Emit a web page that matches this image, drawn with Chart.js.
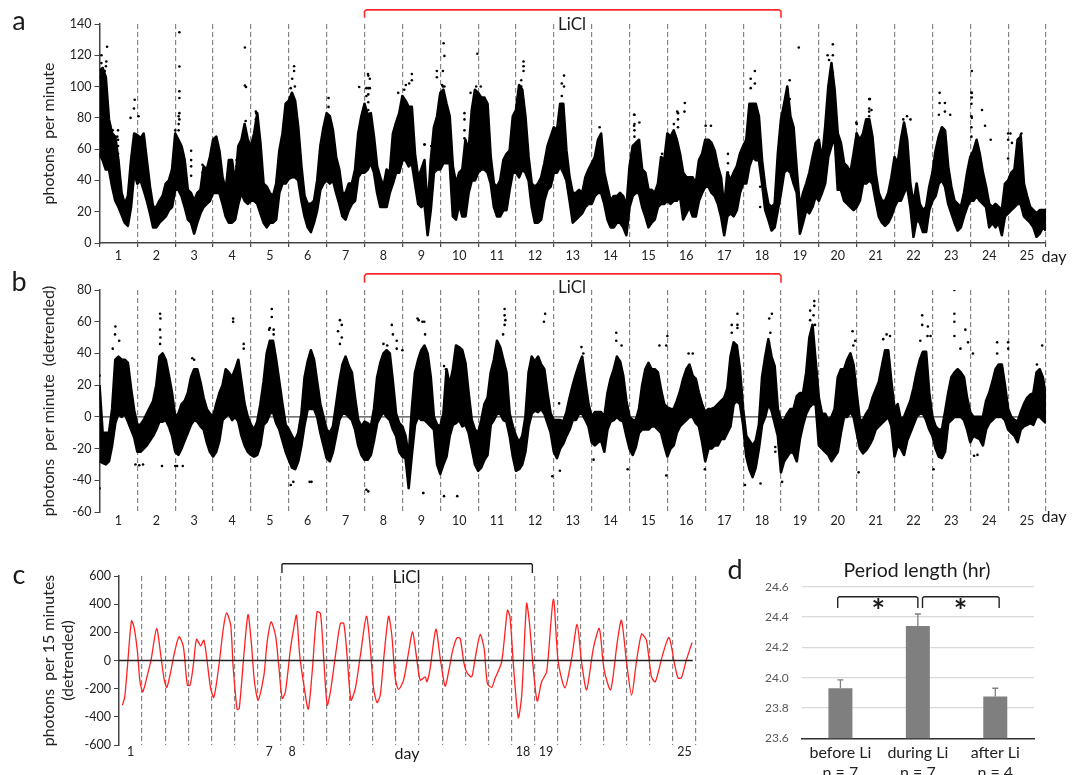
<!DOCTYPE html>
<html><head><meta charset="utf-8">
<style>
html,body{margin:0;padding:0;background:#fff;width:1079px;height:775px;overflow:hidden}
canvas{position:absolute;display:block}
</style>
<script src="https://cdn.jsdelivr.net/npm/chart.js@4/dist/chart.umd.min.js"></script>
</head><body>
<canvas id="ca" style="left:0px;top:0px" width="1079" height="265"></canvas>
<canvas id="cb" style="left:0px;top:265px" width="1079" height="270"></canvas>
<canvas id="cc" style="left:0px;top:550px" width="720" height="225"></canvas>
<canvas id="cd" style="left:720px;top:550px" width="359" height="225"></canvas>
<script>
// ---------- data ----------
const dayLabels = ['1','2','3','4','5','6','7','8','9','10','11','12','13','14','15','16','17','18','19','20','21','22','23','24','25'];
const dayLabelsC = ['1','','','','','','7','8','','','','','','','','','','18','19','','','','','','25'];

// panel a: dense band of the point cloud, lower and upper edge, twelve readings per day
const aLow = [57,53,47,47,36,27,23,18,13,11,23,45, 38,40,34,27,19,10,10,13,15,17,21,23, 34,34,30,23,15,13,6,13,19,23,25,27,
  32,32,32,25,17,13,13,15,25,32,27,25, 27,27,25,19,13,10,13,13,15,32,38,38, 41,42,42,40,27,17,10,7,13,21,34,38,
  40,38,40,32,25,17,15,21,25,27,42,45, 45,47,51,45,32,23,23,23,32,38,45,45, 53,53,49,51,38,25,23,25,5,21,45,47,
  47,51,51,51,17,15,25,17,17,32,40,40, 45,47,47,45,38,23,17,17,21,21,34,45, 45,42,47,45,40,23,13,13,15,27,34,36,
  45,45,49,45,40,27,13,15,17,19,23,25, 25,30,32,32,25,15,10,10,13,13,10,5, 23,30,32,32,23,17,10,13,15,23,25,25,
  27,25,27,27,30,15,19,23,17,17,27,32, 36,36,32,30,25,17,5,17,19,17,21,32, 38,38,49,55,53,53,38,21,15,8,10,21,
  32,45,47,45,38,32,6,13,21,19,23,30, 27,32,38,55,62,68,34,34,27,25,23,21, 23,27,38,38,40,38,27,17,13,11,13,17,
  23,27,27,32,36,23,4,15,13,7,7,21, 27,30,38,40,36,25,19,13,8,10,17,23, 27,27,30,27,25,23,10,13,10,13,5,17,
  19,21,23,25,25,17,15,13,10,4,6,10, 8];
const aHigh = [110,112,106,79,70,68,53,32,25,30,53,70, 69,67,70,53,36,23,23,27,30,38,40,47, 70,66,62,53,34,32,27,32,34,49,47,55,
  66,68,59,42,34,53,53,38,62,66,76,66, 62,70,83,64,38,36,32,30,38,59,70,89, 91,96,91,74,49,30,25,25,27,40,62,74,
  83,81,72,55,47,32,32,38,38,47,70,81, 89,82,83,68,49,42,36,47,45,70,77,83, 94,91,87,87,57,42,47,53,21,53,74,81,
  96,98,89,81,49,38,45,47,66,59,85,98, 96,93,93,89,55,38,36,40,53,57,59,81, 85,101,98,81,55,38,36,38,42,51,62,68,
  74,72,89,89,59,42,32,32,34,32,42,47, 51,55,66,70,45,36,27,30,30,32,30,23, 49,62,64,66,47,45,34,34,32,38,55,53,
  70,68,72,66,57,45,42,42,42,38,53,57, 66,66,64,59,49,42,23,45,40,45,49,57, 62,66,89,89,89,81,53,36,25,23,25,57,
  79,89,100,81,74,47,23,32,38,45,55,64, 66,53,74,100,115,98,70,64,51,49,45,57, 70,66,70,79,79,68,45,32,27,27,32,42,
  55,51,66,77,66,38,25,38,25,21,23,36, 45,59,68,74,72,49,36,27,25,23,32,45, 55,59,66,57,45,36,25,23,25,23,21,38,
  40,45,47,66,68,38,30,23,21,19,21,21, 21];
// panel a: isolated points and streaks above and below the band
const aOutDay = [.2,.05,.18,.05,.17,.14,.02,.16,.93,.91,1.03,.82,.35,.47,2.11,2.11,2.11,2.11,2.11,2.11,2.0,3.84,3.84,3.87,3.86,4.14,
  5.14,5.14,5.09,5.05,5.16,6.05,6.05,6.86,7.09,7.14,7.05,7.14,7.05,8.25,8.25,8.09,8.18,7.89,8.05,9.09,9.11,9.07,8.91,8.91,9.05,9.11,
  9.98,9.95,10.07,9.8,11.2,11.2,11.2,11.14,11.14,8.59,12.27,12.21,12.27,12.21,13.21,14.12,14.26,14.12,15.46,15.45,15.26,15.17,16.01,16.15,
  17.31,17.2,17.31,17.2,18.47,18.23,18.18,18.23,19.37,19.23,19.37,19.27,19.32,19.37,20.35,20.39,19.99,21.33,21.42,21.23,21.28,
  22.19,22.33,22.19,22.47,22.17,22.33,23.04,23.04,23.04,23.31,23.39,23.54,23.04,24.06,24.35,24.1,
  .49,.49,.49,.49,.49,.49,2.42,2.42,2.42,2.42,2.72,2.72,3.48,3.48,3.48,3.62,3.62,3.62,4.13,4.13,4.13,2.09,2.09,2.09,
  9.64,9.64,9.64,9.64,8.58,8.76,8.76,7.1,7.1,7.1,7.1,7.1,9.07,9.07,9.07,14.13,14.13,14.13,14.13,15.28,15.28,15.28,14.86,14.86,14.86,16.6,16.6,16.6,17.45,17.45,
  20,20,20,21.26,21.26,21.26,20.33,20.33,20.33,20.33,24,24,24,24.33,24.33,24.33,23.03,23.03,23.03,23.03,23.03];
const aOutVal = [125.5,120,116,115,113,110,106,104,91.6,86,81,80,72,68,134.7,112.8,97,92.7,83,79,72,125,100.7,99.7,78,83,
  113,110,105,99,100,92.7,87,99.7,108,105,99,99,94,108,104,101,102,96,98,127.7,119.6,110,110,106,101,100,
  121,100,100,96,116,113,110,104,100,63,107,102,100,94,74,82,77,75,89.5,84,84,76,75,75,
  110,105,102,99,125,104,98,92,127,120,120,117,110,109,92,85,77,81,79,79,73,
  96,89.5,89.5,82,82,84,110,96,93,85,75,66,80,70,70,64,
  72,66,62,57,53,49,59,53,49,43,50,45,53,49,46,53,49,44,84,79,74,81,76,72,
  83,79,72,67,63,62,51,107,99,95,90,85,100,96,91,82,76,72,68,83,79,74,57,53,49,57,51,45,36,23,
  76,70,64,73,70,66,92,86,84,81,70,66,54,69,64,57,96,89,81,74,68];
// panel b: the same kind of band, twelve readings per day
const bLow = [-28,-29,-30,-28,-18,-4,2,0,2,-3,-8,-13, -22,-22,-20,-18,-15,-12,-8,-3,-3,-2,-6,-12, -22,-24,-20,-15,-10,-5,-2,-3,-6,-8,-16,-22,
  -25,-22,-15,-2,0,2,-2,0,-3,-12,-18,-22, -24,-25,-24,-18,-5,-3,2,3,-4,-8,-15,-22, -27,-32,-33,-28,-18,-5,5,5,5,0,-10,-18,
  -26,-28,-22,-12,-2,2,2,0,-2,-8,-18,-24, -27,-27,-24,-15,-4,0,3,0,-2,-8,-12,-22, -25,-26,-45,-24,-5,0,-2,-2,-4,-6,-8,-30,
  -36,-30,-25,-12,-5,-4,-2,-6,-5,-10,-20,-30, -34,-32,-27,-24,-5,-2,2,2,-2,-3,-12,-25, -34,-33,-30,-22,-6,2,4,3,5,2,-4,-10,
  -22,-26,-20,-17,-12,-8,-2,-2,2,2,-2,-6, -16,-18,-16,-15,-22,-8,-3,-2,0,-2,-3,-12, -20,-24,-19,-10,-8,-8,-8,-6,-6,-8,-10,-18,
  -25,-20,-18,-10,-6,-4,-2,0,0,-4,-6,-16, -28,-20,-20,-18,-18,-14,-14,-10,-6,8,10,8, -5,-25,-33,-38,-32,-20,-5,0,8,4,-4,-12,
  -35,-28,-25,-22,-23,-28,-14,-5,2,6,8,8, -18,-20,-22,-24,-28,-25,-22,-10,0,0,3,0, -10,-20,-23,-21,-18,-14,-8,-6,-4,-2,0,-6,
  -25,-18,-20,-24,-15,-10,-5,0,2,2,-2,-8, -12,-20,-25,-26,-22,-4,-2,0,0,0,-2,-8, -16,-12,-13,-14,-18,-8,-4,-2,0,0,0,-2,
  -8,-10,-12,-16,-8,-6,-5,-4,-5,0,0,-2, -4];
const bHigh = [20,-10,-10,-10,5,36,38,36,36,34,18,4, -5,-5,-2,2,6,10,20,38,40,36,26,15, 0,2,8,10,15,25,30,30,22,12,5,2,
  0,8,15,20,30,28,25,30,36,22,8,0, -5,-8,-3,8,22,40,48,48,36,22,8,-5, -8,-12,-15,-10,2,25,35,42,36,22,8,0,
  -8,-10,-6,8,22,33,38,32,28,12,-2,-6, -3,-4,-6,5,25,34,40,42,40,22,2,-4, -6,-12,-25,5,28,36,42,45,40,25,0,-5,
  -6,2,30,20,30,45,44,42,34,15,-2,-8, -10,-2,8,12,28,36,48,44,36,28,2,-6, -12,-16,-12,0,28,38,35,38,33,30,15,2,
  -2,-2,-2,-3,3,12,20,27,33,38,22,8, 0,3,3,3,0,15,24,30,38,35,26,10, 0,-2,-2,5,20,30,34,30,30,28,17,8,
  6,5,5,10,16,24,30,33,26,24,15,8, 3,5,5,6,8,10,12,18,38,47,45,30, 5,-12,-15,-18,-15,-5,25,38,49,38,32,5,
  -2,-2,2,5,5,13,15,15,28,50,58,35, 12,2,2,-2,0,5,25,30,30,36,40,33, 15,-2,-2,2,5,12,17,22,32,42,42,22,
  5,8,-2,0,5,10,18,28,36,41,41,15, 0,-6,-8,-8,3,15,25,28,30,28,25,12, 3,0,0,0,0,10,15,22,30,33,33,20,
  5,0,-2,-3,3,8,12,14,15,28,30,25, 12];
const bOutDay = [0,0,.42,.41,.52,.35,.95,1.05,1.15,1.6,1.61,1.6,1.61,1.6,2,1.65,2.2,2.05,2.45,2.5,3.53,3.53,3.81,3.81,
  4.55,4.55,4.5,4.48,4.6,4.6,5.05,5.1,5.12,5.55,5.6,6.3,6.35,6.4,6.4,6.35,7.05,7.1,7.5,7.72,7.6,7.75,7.85,7.85,8.0,8.55,8.55,8.43,8.53,8.58,8.6,8.4,9.1,9.45,9.1,9.15,10.7,10.7,10.72,10.7,10.66,
  11.77,11.74,11.96,12.16,12.14,12.73,12.78,13.05,13.65,13.65,13.79,13.95,15,14.97,14.79,14.97,15.56,15.67,15.99,16.85,16.7,16.85,16.85,16.7,17.05,17.46,17.76,17.69,17.72,17.68,18.03,17.85,17.85,
  18.88,18.88,18.77,18.86,18.77,18.9,19.89,19.96,19.91,20.05,20.79,20.88,20.7,21.73,21.73,21.88,21.95,21.68,21.87,22.03,22.58,22.58,22.58,22.58,22.87,22.94,23.07,22.74,23.1,23.19,23.71,23.71,24,24,24.9,24.76];
const bOutVal = [26,-45,57,52,48,43,-30,-30.5,-30,65,62,55,50,46,-31,-31,-31,-31,37,36,62,60,46,43,
  68,63,56,55,55,52,-43,-31,-41,-41,-41,54,61,58,50,46,-46,-47,46,58,45,52,48,43,42,-48,-48,61,60,60,52,62,-50,-50,32,30,68,64,61,58,52,
  65,60,-37.5,-34,8.5,44,40,-27,53,48,45,-33,51,45,45,-37,40,40,-33,65,58,58,56,53,-43,-42,65,62,53,47,-41,-22,-19,
  73,70,67,64,61,58,54,48,45,-35,52,51,49,64,58,57,51,48,51,-33,80,65,60,51,55,47,40,43,-24.5,-24,47,40,47,43,45,33];
// panel c: readings of the red curve (day, value)
const cDay = [.15,.25,.37,.54,.65,.8,.91,1.03,1.23,1.4,1.63,1.81,1.95,2.07,2.24,2.38,2.6,2.79,2.96,3.08,3.22,3.36,3.54,3.68,3.82,3.97,4.11,4.33,4.52,4.66,4.84,4.95,5.12,5.21,5.41,5.59,5.73,5.87,6.03,6.28,6.42,6.59,6.78,6.92,7.07,7.21,7.43,7.57,7.69,7.83,8.01,8.2,8.37,8.58,8.73,8.87,9.02,9.16,9.38,9.59,9.74,9.88,10.05,10.24,10.46,10.72,10.89,11.03,11.18,11.32,11.47,11.68,11.82,11.97,12.11,12.33,12.55,12.72,12.88,13.05,13.27,13.34,13.48,13.73,13.92,14.13,14.28,14.46,14.64,14.78,14.95,15.07,15.28,15.43,15.65,15.82,15.96,16.15,16.29,16.58,16.83,16.94,17.09,17.3,17.45,17.66,17.78,17.95,18.12,18.31,18.53,18.82,19.03,19.32,19.61,19.85,20.04,20.26,20.55,20.81,21.01,21.3,21.59,21.77,21.99,22.21,22.42,22.64,22.85,23.07,23.24,23.55,23.83,24.08,24.22,24.37,24.56,24.83];
const cVal = [-317,-257,-33,281,238,61,-151,-222,-104,14,227,38,-128,-191,-80,38,168,97,-175,-175,-33,151,104,144,-9,-198,-262,-33,227,338,250,-57,-347,-340,38,326,132,-151,-281,-104,132,274,180,-33,-269,-222,85,227,321,38,-175,-345,-80,345,333,14,-317,-222,38,262,262,38,-281,-198,38,314,85,-198,-298,-246,14,314,180,-128,-205,-139,61,203,38,-139,-116,-151,-57,222,14,-182,-80,73,161,156,-21,-85,-116,14,184,85,-163,-191,-128,-9,357,309,-33,-406,-246,404,274,-57,-288,-151,-80,435,-9,-194,14,257,-9,-208,85,227,-57,-208,132,286,-9,-246,-9,187,144,-116,-151,38,163,-33,-123,-123,-9,128];
// panel d
const periodLabels = [['before Li','n = 7'],['during Li','n = 7'],['after Li','n = 4']];
const periodMeans = [23.93,24.34,23.875];
const periodErrors = [.055,.08,.055];

// ---------- helpers ----------
const FONT = 'Lato, "Noto Sans", sans-serif';
const band = (arr,perDay) => arr.map((y,i) => ({x:i/perDay, y}));
const pts = (xs,ys) => xs.map((x,i) => ({x, y:ys[i]}));
const seg = (p, color, width) => ({data:p.map(q=>({x:q[0],y:q[1]})), borderColor:color, borderWidth:width, pointRadius:0, tension:0, fill:false, clip:false, xAxisID:'xD'});

const notesPlugin = {
  id:'notes',
  afterDraw(chart, args, opts){
    const c = chart.ctx, s = chart.scales;
    (opts.items||[]).forEach(t=>{
      const x = t.px!==undefined ? t.px : s.xD.getPixelForValue(t.x);
      const y = t.py!==undefined ? t.py : s.y.getPixelForValue(t.y);
      c.save(); c.fillStyle = t.color||'#1a1a1a'; c.font = (t.weight||'')+' '+t.size+'px '+FONT;
      c.textAlign='center'; c.textBaseline='middle'; c.fillText(t.text,x,y); c.restore();
    });
  }
};
const errorPlugin = {
  id:'errbars',
  afterDatasetsDraw(chart){
    const c = chart.ctx, s = chart.scales;
    c.save(); c.strokeStyle='#7f7f7f'; c.lineWidth=1.3;
    periodMeans.forEach((m,i)=>{
      const x = s.x.getPixelForValue(i), y0 = s.y.getPixelForValue(m), y1 = s.y.getPixelForValue(m+periodErrors[i]);
      c.beginPath(); c.moveTo(x,y0); c.lineTo(x,y1); c.moveTo(x-3,y1); c.lineTo(x+3,y1); c.stroke();
    });
    c.restore();
  }
};

function timeAxes(labels, opts){
  return {
    x:{type:'category', labels, offset:true,
      grid:{offset:true, drawOnChartArea:true, drawTicks:!!opts.axisLine, tickLength:4, tickColor:'#444',
        color:ctx=> (ctx.index===0 || (opts.noLast && ctx.index===labels.length)) ? 'rgba(0,0,0,0)' : '#858585',
        lineWidth:1.2},
      border:{display:!!opts.axisLine, color:'#444', width:1.5, dash:[5,3]},
      ticks:{autoSkip:false, maxRotation:0, color:'#222', padding:opts.tickPad, font:{family:FONT,size:opts.tick}},
      afterFit:s=>{s.height=opts.xh}},
    xD:{type:'linear', axis:'x', min:0, max:25, display:false},
    y:{type:'linear', min:opts.min, max:opts.max, 
      grid:{display:true, drawOnChartArea:false, tickLength:5, tickColor:'#444'},
      border:{color:'#444', width:1.5},
      ticks:{stepSize:opts.step, color:'#222', padding:3, font:{family:FONT,size:opts.tick}},
      title:{display:true, text:opts.title, color:'#222', font:{family:FONT,size:16}, padding:{top:opts.titlePad,bottom:0}},
      afterFit:s=>{s.width=opts.yw}}
  };
}
const baseOpts = {responsive:false, animation:false, events:[], plugins:{legend:{display:false}, tooltip:{enabled:false}}};

function densePanel(id, low, high, perDay, outD, outV, opts, extras, notes){
  return new Chart(document.getElementById(id),{
    type:'line', plugins:[notesPlugin],
    data:{labels:dayLabels, datasets:[
      {data:band(low,perDay), xAxisID:'xD', borderColor:'#000', borderWidth:2.6, borderJoinStyle:'round', pointRadius:0, fill:false, tension:0},
      {data:band(high,perDay), xAxisID:'xD', borderColor:'#000', borderWidth:2.6, borderJoinStyle:'round', pointRadius:0, fill:'-1', backgroundColor:'#000', tension:0},
      {data:pts(outD,outV), xAxisID:'xD', showLine:false, pointRadius:1.3, pointBackgroundColor:'#000', pointBorderWidth:0},
      ...extras]},
    options:{...baseOpts, layout:{padding:opts.pad},
      plugins:{...baseOpts.plugins, notes:{items:notes}},
      scales:timeAxes(dayLabels,opts)}
  });
}

// panel a
densePanel('ca',aLow,aHigh,12,aOutDay,aOutVal,
  {min:0,max:140,step:20,title:'photons  per minute',titlePad:39,yw:99.5,xh:22,tick:12.5,tickPad:1,axisLine:true,pad:{top:24,right:33,left:0,bottom:0}},
  [seg([[7,144],[7,148],[7.05,149],[17.95,149],[18,148],[18,144]],'#ff2a2a',1.6)],
  [{text:'a',px:19,py:21,size:27},{text:'LiCl',x:12.48,py:25,size:17},{text:'day',px:1054,py:257,size:16}]);

// panel b
densePanel('cb',bLow,bHigh,12,bOutDay,bOutVal,
  {min:-60,max:80,step:20,title:'photons  per minute  (detrended)',titlePad:39,yw:99.5,xh:23,tick:12.5,tickPad:1,axisLine:false,pad:{top:25,right:33,left:0,bottom:0}},
  [seg([[0,0],[25,0]],'#444',1.4),seg([[7,84.5],[7,89],[7.05,90.2],[17.95,90.2],[18,89],[18,84.5]],'#ff2a2a',1.6)],
  [{text:'b',px:19,py:17,size:27},{text:'LiCl',x:12.48,py:23,size:17},{text:'day',px:1054,py:252,size:16}]);

// panel c
new Chart(document.getElementById('cc'),{
  type:'line', plugins:[notesPlugin],
  data:{labels:dayLabelsC, datasets:[
    seg([[0,0],[24.86,0]],'#222',1.4),
    {data:pts(cDay,cVal), xAxisID:'xD', borderColor:'#ff2020', borderWidth:1.3, pointRadius:0, fill:false, tension:.25},
    seg([[7.06,621],[7.06,680],[7.1,687],[17.87,687],[17.91,680],[17.91,621]],'#222',1.4)]},
  options:{...baseOpts, layout:{padding:{top:26,right:24,left:0,bottom:0}},
    plugins:{...baseOpts.plugins, notes:{items:[{text:'c',px:19,py:25,size:27},{text:'LiCl',x:12.46,py:28,size:17},{text:'day',px:407,py:204,size:16}]}},
    scales:timeAxes(dayLabelsC,{min:-600,max:600,step:200,title:['photons  per 15 minutes','(detrended)'],titlePad:39,yw:119,xh:30,tick:12.5,tickPad:-1,axisLine:false,noLast:true})}
});

// panel d
new Chart(document.getElementById('cd'),{
  type:'bar', plugins:[notesPlugin,errorPlugin],
  data:{labels:periodLabels, datasets:[
    {data:periodMeans, xAxisID:'x', grouped:false, backgroundColor:'#7f7f7f', barPercentage:.31, categoryPercentage:1, order:2},
    {type:'line',...seg([[-.035,24.46],[-.035,24.525],[-.015,24.534],[.98,24.534],[1,24.525],[1,24.46]],'#222',1.4)},
    {type:'line',...seg([[1.06,24.46],[1.06,24.525],[1.08,24.534],[2.03,24.534],[2.05,24.525],[2.05,24.46]],'#222',1.4)}]},
  options:{...baseOpts, layout:{padding:{top:36.7,right:45,left:0,bottom:0}},
    plugins:{...baseOpts.plugins,
      notes:{items:[{text:'d',px:15,py:20,size:27},{text:'Period length (hr)',px:197,py:20.5,size:19.5},{text:'*',x:.49,py:63,size:32,weight:'bold'},{text:'*',x:1.55,py:63,size:32,weight:'bold'}]}},
    scales:{
      x:{type:'category', grid:{display:false}, border:{color:'#333',width:1.5},
        ticks:{color:'#222',padding:-3,maxRotation:0,autoSkip:false,font:{family:FONT,size:16,lineHeight:1.25}}, afterFit:s=>{s.height=36.7}},
      xD:{type:'linear',axis:'x',min:-.5,max:2.5,offset:false,grid:{offset:false},display:false},
      y:{type:'linear',min:23.6,max:24.6,
        grid:{color:'#d9d9d9',lineWidth:1.2,drawTicks:false}, border:{display:false},
        ticks:{stepSize:.2,color:'#595959',padding:13,font:{family:FONT,size:12},callback:v=>v.toFixed(1)},
        afterFit:s=>{s.width=81.7}}
    }
  }
});
</script>
</body></html>
